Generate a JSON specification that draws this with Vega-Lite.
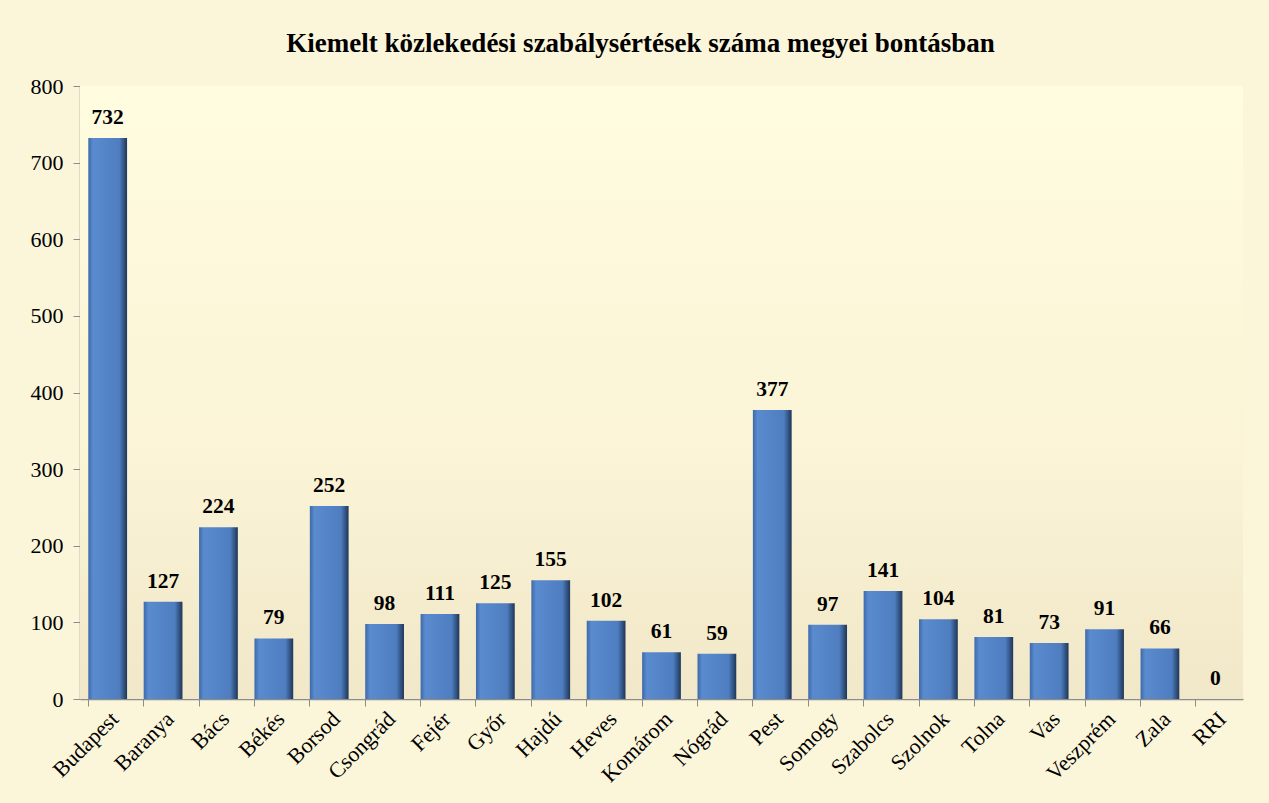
{
  "$schema": "https://vega.github.io/schema/vega-lite/v6.json",
  "width": 1163,
  "height": 613,
  "autosize": "none",
  "padding": {"left": 80, "top": 86, "right": 26, "bottom": 104},
  "background": "#FBF5DA",
  "config": {
    "view": {"stroke": null},
    "font": "Liberation Serif"
  },
  "title": {
    "text": "Kiemelt közlekedési szabálysértések száma megyei bontásban",
    "font": "Liberation Serif",
    "fontSize": 27,
    "fontWeight": "bold",
    "color": "#000000",
    "anchor": "middle",
    "dx": -21,
    "offset": 17
  },
  "data": {
    "values": [
      {"megye": "Budapest", "ertek": 732},
      {"megye": "Baranya", "ertek": 127},
      {"megye": "Bács", "ertek": 224},
      {"megye": "Békés", "ertek": 79},
      {"megye": "Borsod", "ertek": 252},
      {"megye": "Csongrád", "ertek": 98},
      {"megye": "Fejér", "ertek": 111},
      {"megye": "Győr", "ertek": 125},
      {"megye": "Hajdú", "ertek": 155},
      {"megye": "Heves", "ertek": 102},
      {"megye": "Komárom", "ertek": 61},
      {"megye": "Nógrád", "ertek": 59},
      {"megye": "Pest", "ertek": 377},
      {"megye": "Somogy", "ertek": 97},
      {"megye": "Szabolcs", "ertek": 141},
      {"megye": "Szolnok", "ertek": 104},
      {"megye": "Tolna", "ertek": 81},
      {"megye": "Vas", "ertek": 73},
      {"megye": "Veszprém", "ertek": 91},
      {"megye": "Zala", "ertek": 66},
      {"megye": "RRI", "ertek": 0}
    ]
  },
  "layer": [
    {
      "mark": {
        "type": "rect",
        "color": {
          "gradient": "linear", "x1": 0, "y1": 0, "x2": 0, "y2": 1,
          "stops": [
            {"offset": 0, "color": "#FFFCE0"},
            {"offset": 0.6, "color": "#FBF4D6"},
            {"offset": 1, "color": "#F1E7C9"}
          ]
        }
      },
      "encoding": {}
    },
    {
      "mark": {
        "type": "bar",
        "color": {
          "gradient": "linear", "x1": 0, "y1": 0, "x2": 1, "y2": 0,
          "stops": [
            {"offset": 0, "color": "#3D69A8"},
            {"offset": 0.12, "color": "#5A8BCF"},
            {"offset": 0.8, "color": "#4E7EC0"},
            {"offset": 1, "color": "#1F3658"}
          ]
        }
      },
      "encoding": {
        "x": {
          "field": "megye",
          "type": "nominal",
          "sort": null,
          "scale": {"paddingInner": 0.3, "paddingOuter": 0.15},
          "axis": {
            "title": null,
            "labelAngle": -45,
            "labelAlign": "right",
            "labelBaseline": "top",
            "labelFont": "Liberation Serif",
            "labelFontSize": 22,
            "labelColor": "#000000",
            "labelPadding": 2,
            "bandPosition": 0,
            "tickSize": 7,
            "tickColor": "#8C8C8C",
            "domainColor": "#8C8C8C",
            "domainWidth": 1.5
          }
        },
        "y": {
          "field": "ertek",
          "type": "quantitative",
          "scale": {"domain": [0, 800]},
          "axis": {
            "title": null,
            "values": [0, 100, 200, 300, 400, 500, 600, 700, 800],
            "grid": false,
            "labelFont": "Liberation Serif",
            "labelFontSize": 22,
            "labelColor": "#000000",
            "labelPadding": 10,
            "tickSize": 7,
            "tickColor": "#8C8C8C",
            "domainColor": "#8C8C8C",
            "domainWidth": 1.5
          }
        }
      }
    },
    {
      "mark": {
        "type": "text",
        "font": "Liberation Serif",
        "fontSize": 21.5,
        "fontWeight": "bold",
        "color": "#000000",
        "baseline": "bottom",
        "dy": -9
      },
      "encoding": {
        "x": {"field": "megye", "type": "nominal", "sort": null},
        "y": {"field": "ertek", "type": "quantitative"},
        "text": {"field": "ertek", "type": "quantitative"}
      }
    }
  ]
}
